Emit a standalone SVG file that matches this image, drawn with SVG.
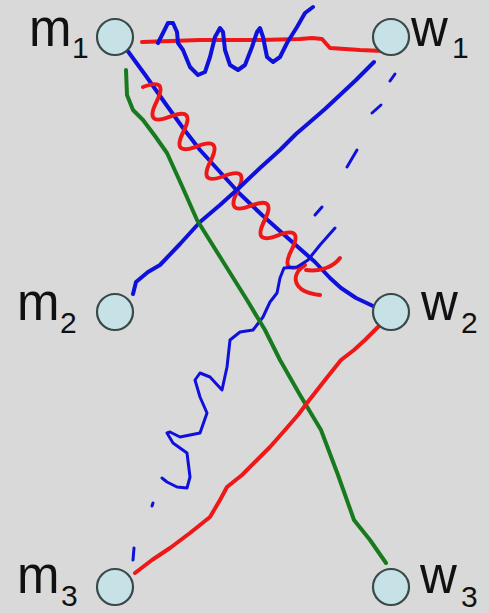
<svg xmlns="http://www.w3.org/2000/svg" width="489" height="613" viewBox="0 0 489 613">
<style>
.node circle{fill:#c6e2e6;stroke:#3a4848;stroke-width:2.2}
.lbl{font-family:"Liberation Sans",Arial,sans-serif;fill:#111}
.big{font-size:51px}
.sub{font-size:30px}
.c{fill:none;stroke-width:4;stroke-linecap:round;stroke-linejoin:round}
.b{stroke:#1010dc}
.r{stroke:#ee1818}
.g{stroke:#187a1e}
.thin{stroke-width:3}
</style>
<rect width="489" height="613" fill="#d9d9d9"/>
<g id="connectors">
  <!-- red m1-w1 -->
  <path class="c r" d="M142,42 L200,40 L260,40 L300,39 L312,38 L322,39 L330,48 L360,50 L383,51"/>
  <!-- blue coil m1-w1 -->
  <path class="c b" d="M158,43 L163,33 L168,23 L173,23 L177,32 L178,43 L183,50 L190,67 L198,75 L205,72 L210,57 L215,37 L220,28 L223,32 L225,50 L230,65 L238,70 L245,65 L252,47 L257,32 L260,28 L263,37 L267,57 L273,62 L280,57 L287,43 L297,27 L305,13 L313,7"/>
  <!-- blue m1-w2 -->
  <path class="c b" d="M127,50 L146,76 L165,103 L183,128 L200,150 L220,172 L240,194 L262,215 L290,240 L315,262 L330,278 L341,288 L356,298 L373,306"/>
  <!-- red zigzag m1 to w2 -->
  <path class="c r" d="M143,87 Q169,77 156.5,101.8 Q144,126.8 170,116.7 Q196,106.6 183.5,131.5 Q171,156.4 197,146.3 Q223,136.3 210.5,161.2 Q198,186.1 224,176 Q250,165.9 237.5,190.8 Q225,215.8 251,205.7 Q277,195.6 264.5,220.5 Q252,245.4 278,235.3 Q304,225.3 291.5,250.2 Q279,275.1 305,265 C290,275 292,292 320,295"/>
  <path class="c r" d="M306,270 C322,272 334,266 340,258"/>
  <!-- blue m2-w1 -->
  <path class="c b" d="M133,294 L136,282 L148,272 L160,265 L180,244 L200,222 L220,205 L240,187 L260,168 L280,150 L296,134 L310,122 L325,109 L340,95 L356,80 L374,62"/>
  <!-- blue dashes and coil w1 to m3 -->
  <path class="c b thin" d="M390,81 L395,74"/>
  <path class="c b thin" d="M372,113 L381,105"/>
  <path class="c b thin" d="M347,167 L357,150"/>
  <path class="c b thin" d="M315,215 L322,207"/>
  <path class="c b thin" d="M335,228 L320,245 L308,260 L297,267 L284,268 L280,278 L277,293 L270,302 L263,317 L253,330 L240,332 L230,340 L227,367 L222,390 L210,377 L200,373 L195,380 L200,397 L207,413 L200,433 L180,437 L170,432 L167,433 L173,443 L187,453 L190,477 L187,488 L177,487 L167,482 L162,478"/>
  <path class="c b thin" d="M152,506 L153,503"/>
  <path class="c b thin" d="M133,560 L134,548"/>
  <!-- green m1-w3 -->
  <path class="c g" d="M126,70 L127,95 L133,110 L143,120 L155,136 L167,153 L182,186 L197,220 L222,260 L247,300 L265,330 L280,360 L300,395 L321,430 L338,475 L354,520 L370,540 L386,563"/>
  <!-- red m3-w2 -->
  <path class="c r" d="M135,573 L152,560 L170,548 L190,533 L210,517 L220,500 L227,487 L242,475 L257,460 L270,447 L285,430 L298,415 L307,403 L325,380 L341,360 L354,350 L365,340 L380,325"/>
</g>
<g id="m1" class="node">
  <circle cx="115" cy="37" r="18"/>
  <text class="lbl big" x="29" y="46">m</text><text class="lbl sub" x="72" y="58">1</text>
</g>
<g id="w1" class="node">
  <circle cx="391" cy="37" r="18"/>
  <text class="lbl big" x="411" y="46">w</text><text class="lbl sub" x="452" y="58">1</text>
</g>
<g id="m2" class="node">
  <circle cx="115" cy="312" r="18"/>
  <text class="lbl big" x="17" y="320">m</text><text class="lbl sub" x="60" y="333">2</text>
</g>
<g id="w2" class="node">
  <circle cx="391" cy="312" r="18"/>
  <text class="lbl big" x="421" y="320">w</text><text class="lbl sub" x="461" y="333">2</text>
</g>
<g id="m3" class="node">
  <circle cx="115" cy="587" r="18"/>
  <text class="lbl big" x="17" y="593">m</text><text class="lbl sub" x="61" y="606">3</text>
</g>
<g id="w3" class="node">
  <circle cx="391" cy="587" r="18"/>
  <text class="lbl big" x="420" y="593">w</text><text class="lbl sub" x="461" y="607">3</text>
</g>
</svg>
